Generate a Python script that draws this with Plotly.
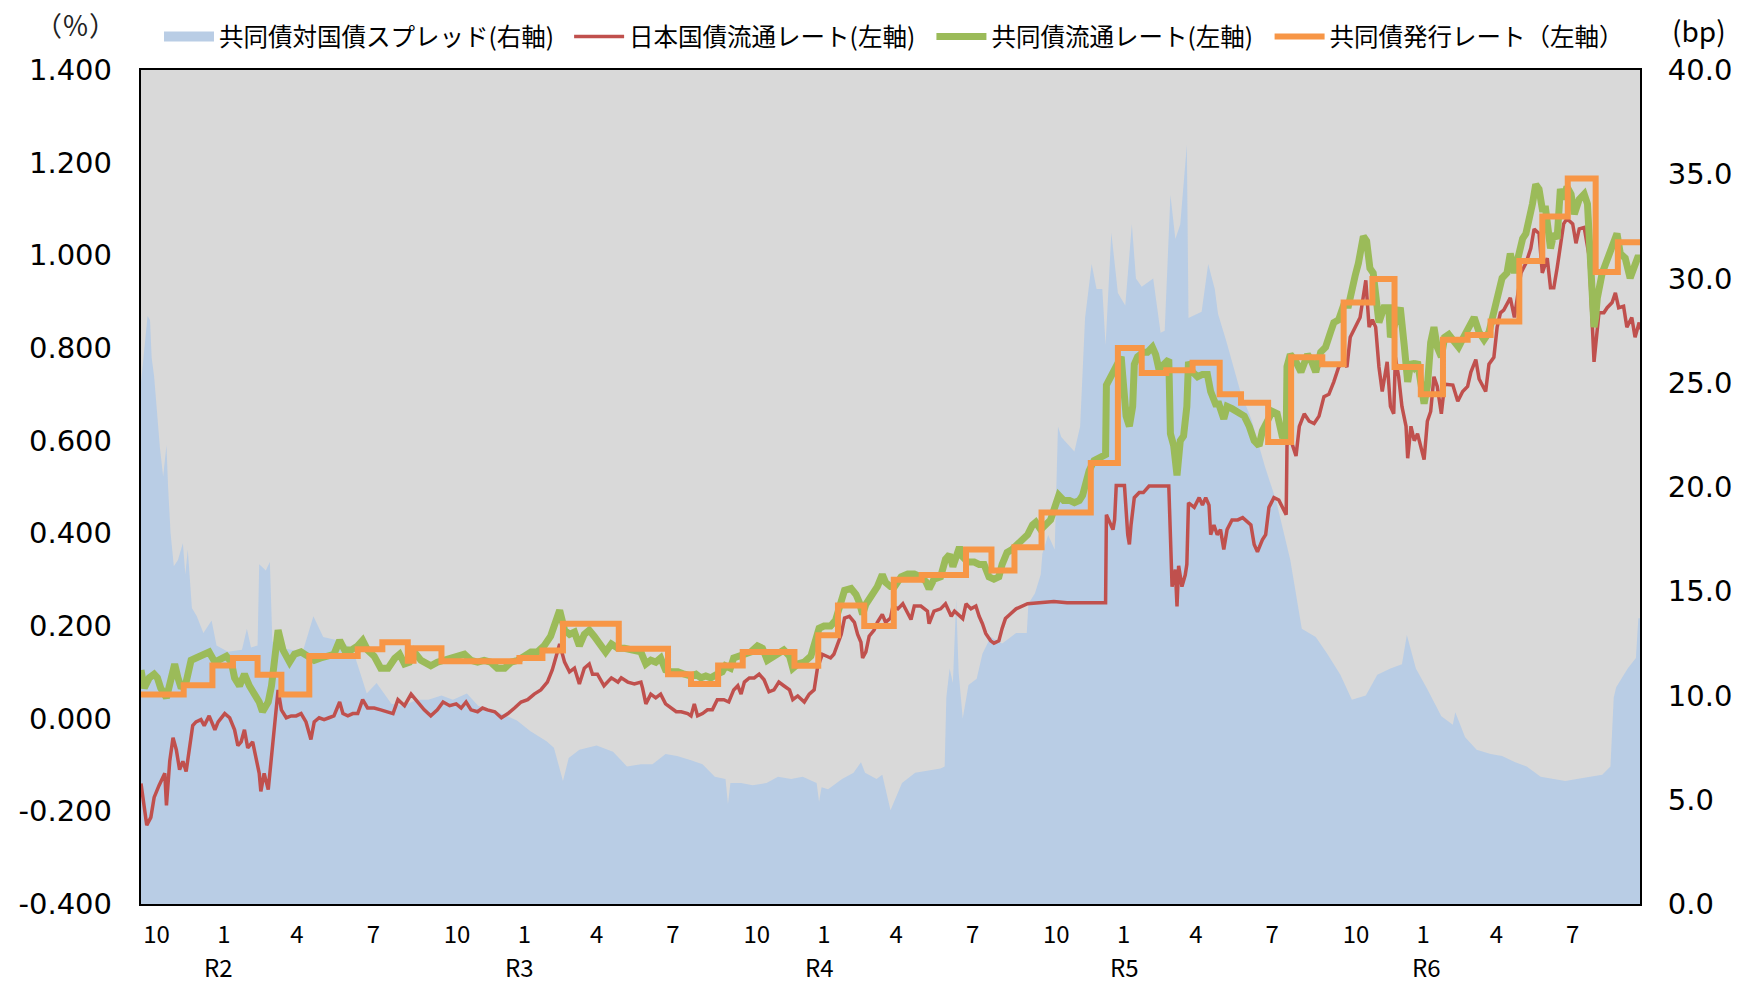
import plotly.graph_objects as go

# ---------------- data ----------------
spread_dates = [
 "2019-10-01","2019-10-05","2019-10-09","2019-10-12","2019-10-14","2019-10-17","2019-10-20","2019-10-24","2019-10-28",
 "2019-11-01","2019-11-03","2019-11-06","2019-11-10","2019-11-15","2019-11-21","2019-11-24","2019-11-27",
 "2019-12-02","2019-12-08","2019-12-16","2019-12-26","2020-01-01","2020-01-15","2020-02-01","2020-02-07","2020-02-12",
 "2020-02-20","2020-02-22","2020-03-01","2020-03-06","2020-03-09","2020-03-15","2020-04-01","2020-04-15","2020-04-28",
 "2020-05-10","2020-06-01","2020-06-15","2020-07-02","2020-07-14","2020-08-01","2020-08-15","2020-09-01","2020-09-15",
 "2020-10-01","2020-10-15","2020-11-01","2020-11-15","2020-12-01","2020-12-15","2021-01-01","2021-01-17","2021-02-06",
 "2021-02-15","2021-02-26","2021-03-05","2021-03-18","2021-04-08","2021-04-28","2021-05-15","2021-06-01","2021-06-15",
 "2021-07-01","2021-07-15","2021-08-01","2021-08-15","2021-08-30","2021-09-12","2021-09-15","2021-09-18","2021-10-01",
 "2021-10-15","2021-11-01","2021-11-15","2021-12-01","2021-12-15","2022-01-01","2022-01-04","2022-01-07","2022-01-15",
 "2022-02-01","2022-02-15","2022-02-24","2022-03-01","2022-03-15","2022-03-22","2022-04-01","2022-04-15","2022-05-01",
 "2022-05-15","2022-06-01","2022-06-06","2022-06-08","2022-06-12","2022-06-16","2022-06-20","2022-06-23","2022-06-28",
 "2022-07-05","2022-07-15","2022-07-22","2022-08-01","2022-08-15","2022-09-01","2022-09-14","2022-09-16","2022-09-24",
 "2022-10-01","2022-10-03","2022-10-10","2022-10-18","2022-10-22","2022-10-26","2022-11-11","2022-11-18","2022-11-24",
 "2022-12-02","2022-12-08","2022-12-15","2022-12-19","2022-12-26","2023-01-03","2023-01-12","2023-01-20","2023-01-25",
 "2023-02-01","2023-02-15","2023-02-24","2023-03-01","2023-03-08","2023-03-14","2023-03-20","2023-03-28","2023-03-30",
 "2023-04-15","2023-04-23","2023-05-01","2023-05-05","2023-05-15","2023-06-01","2023-06-15","2023-07-01","2023-07-15",
 "2023-08-01","2023-08-15","2023-09-01","2023-09-15","2023-10-01","2023-10-15","2023-11-01","2023-11-15","2023-12-01",
 "2023-12-15","2023-12-21","2024-01-01","2024-01-15","2024-02-01","2024-02-15","2024-02-18","2024-03-01","2024-03-15",
 "2024-04-01","2024-04-15","2024-05-01","2024-05-15","2024-06-01","2024-06-15","2024-07-01","2024-07-15","2024-08-01",
 "2024-08-15","2024-08-25","2024-08-29","2024-09-01","2024-09-15","2024-09-25","2024-09-28","2024-09-30"]
spread_bp = [
 25.0,26.5,28.2,28.0,26.2,25.3,23.7,21.9,20.5,
 22.0,20.0,17.8,16.2,16.5,17.3,15.8,17.0,
 14.2,13.8,13.0,13.6,12.4,12.1,12.2,13.2,12.3,
 12.4,16.3,16.0,16.4,12.6,12.3,12.2,12.1,13.8,
 12.8,12.6,12.2,10.1,10.6,9.6,9.5,9.8,9.8,
 10.0,9.8,10.1,9.5,9.3,9.1,8.8,8.3,7.8,
 7.5,5.9,7.0,7.4,7.6,7.3,6.6,6.7,6.7,
 7.2,7.1,6.9,6.7,6.1,6.0,4.8,5.8,5.8,
 5.7,5.8,6.1,6.0,6.1,5.8,4.9,5.6,5.5,
 6.0,6.3,6.8,6.3,6.0,6.2,4.5,5.8,6.3,
 6.4,6.5,6.6,9.9,11.3,10.6,14.6,11.1,8.9,
 10.5,10.8,12.0,12.8,12.5,13.0,13.0,14.4,14.9,
 15.8,16.8,17.7,17.0,22.9,22.4,21.7,22.9,28.1,
 30.7,29.5,29.5,26.8,32.2,29.3,28.7,32.6,30.0,
 29.6,30.0,27.4,27.5,34.0,31.9,32.6,36.4,28.1,
 28.4,30.7,29.5,28.3,27.0,24.6,23.2,21.0,19.3,
 16.5,13.2,12.8,12.0,11.0,9.8,10.0,11.0,11.3,
 11.5,12.9,11.3,10.3,9.0,8.6,9.2,8.0,7.4,
 7.2,7.1,6.8,6.6,6.1,6.0,5.9,6.0,6.1,
 6.2,6.6,9.9,10.4,11.3,11.8,13.7,13.7]

jgb_dates = [
 "2019-10-01","2019-10-08","2019-10-13","2019-10-17","2019-10-23","2019-10-30","2019-11-01","2019-11-05","2019-11-09",
 "2019-11-13","2019-11-17","2019-11-21","2019-11-25","2019-12-01","2019-12-03","2019-12-07","2019-12-13","2019-12-17",
 "2019-12-23","2019-12-30","2020-01-03","2020-01-11","2020-01-17","2020-01-23","2020-01-27","2020-01-31","2020-02-04",
 "2020-02-08","2020-02-14","2020-02-18","2020-02-22","2020-02-24","2020-02-28","2020-03-04","2020-03-06","2020-03-08",
 "2020-03-12","2020-03-16","2020-03-20","2020-03-26","2020-04-01","2020-04-07","2020-04-13","2020-04-19","2020-04-25",
 "2020-04-29","2020-05-05","2020-05-11","2020-05-17","2020-05-23","2020-05-30","2020-06-03","2020-06-09","2020-06-15",
 "2020-06-21","2020-06-27","2020-07-03","2020-07-11","2020-07-19","2020-07-28","2020-08-03","2020-08-09","2020-08-17",
 "2020-08-25","2020-09-02","2020-09-10","2020-09-18","2020-09-26","2020-10-03","2020-10-11","2020-10-19","2020-10-25",
 "2020-10-31","2020-11-06","2020-11-14","2020-11-20","2020-11-26","2020-12-05","2020-12-13","2020-12-21","2020-12-29",
 "2021-01-06","2021-01-14","2021-01-22","2021-01-30","2021-02-07","2021-02-13","2021-02-17","2021-02-22","2021-02-28",
 "2021-03-06","2021-03-12","2021-03-18","2021-03-24","2021-03-30","2021-04-03","2021-04-09","2021-04-17","2021-04-26",
 "2021-05-04","2021-05-08","2021-05-16","2021-05-24","2021-06-01","2021-06-03","2021-06-07","2021-06-13","2021-06-19",
 "2021-06-25","2021-07-01","2021-07-08","2021-07-14","2021-07-20","2021-07-28","2021-08-01","2021-08-05","2021-08-09",
 "2021-08-15","2021-08-21","2021-08-27","2021-09-02","2021-09-10","2021-09-16","2021-09-22","2021-09-27","2021-10-01",
 "2021-10-05","2021-10-11","2021-10-17","2021-10-23","2021-10-29","2021-11-04","2021-11-10","2021-11-16","2021-11-22",
 "2021-11-29","2021-12-03","2021-12-09","2021-12-17","2021-12-23","2021-12-29","2022-01-02","2022-01-08","2022-01-14",
 "2022-01-18","2022-01-22","2022-01-27","2022-01-31","2022-02-04","2022-02-10","2022-02-16","2022-02-20","2022-02-24",
 "2022-02-26","2022-03-02","2022-03-06","2022-03-12","2022-03-16","2022-03-22","2022-03-26","2022-04-01","2022-04-04",
 "2022-04-10","2022-04-16","2022-04-26","2022-04-30","2022-05-08","2022-05-16","2022-05-18","2022-05-24","2022-06-01",
 "2022-06-07","2022-06-14","2022-06-18","2022-06-28","2022-07-02","2022-07-08","2022-07-14","2022-07-18","2022-07-22",
 "2022-07-26","2022-08-01","2022-08-05","2022-08-11","2022-08-15","2022-08-19","2022-08-25","2022-09-01","2022-09-15",
 "2022-10-01","2022-10-17","2022-11-02","2022-11-27","2022-12-13","2022-12-19","2022-12-20","2022-12-28","2022-12-30",
 "2023-01-01","2023-01-11","2023-01-13","2023-01-15","2023-01-17","2023-01-19","2023-01-23","2023-01-29","2023-02-03",
 "2023-02-06","2023-02-10","2023-03-06","2023-03-08","2023-03-10","2023-03-14","2023-03-16","2023-03-18","2023-03-22",
 "2023-03-26","2023-03-28","2023-03-30","2023-04-06","2023-04-12","2023-04-16","2023-04-20","2023-04-24","2023-04-26",
 "2023-04-30","2023-05-04","2023-05-08","2023-05-12","2023-05-16","2023-05-22","2023-05-29","2023-06-04","2023-06-10",
 "2023-06-14","2023-06-18","2023-06-22","2023-06-28","2023-07-02","2023-07-06","2023-07-12","2023-07-18","2023-07-24",
 "2023-07-27","2023-07-28","2023-08-01","2023-08-08","2023-08-12","2023-08-18","2023-08-24","2023-08-30","2023-09-05",
 "2023-09-11","2023-09-17","2023-09-23","2023-09-29","2023-10-05","2023-10-09","2023-10-13","2023-10-19","2023-10-25",
 "2023-11-01","2023-11-05","2023-11-09","2023-11-13","2023-11-17","2023-11-21","2023-11-27","2023-12-01","2023-12-05",
 "2023-12-07","2023-12-11","2023-12-15","2023-12-20","2023-12-22","2023-12-26","2023-12-30","2024-01-03","2024-01-07",
 "2024-01-11","2024-01-15","2024-01-19","2024-01-23","2024-01-27","2024-02-01","2024-02-05","2024-02-15","2024-02-21",
 "2024-02-27","2024-03-04","2024-03-08","2024-03-14","2024-03-18","2024-03-26","2024-03-30","2024-04-05","2024-04-09",
 "2024-04-13","2024-04-17","2024-04-25","2024-04-30","2024-05-04","2024-05-08","2024-05-14","2024-05-20","2024-05-24",
 "2024-05-30","2024-06-03","2024-06-09","2024-06-13","2024-06-17","2024-06-21","2024-06-25","2024-06-29","2024-07-03",
 "2024-07-10","2024-07-14","2024-07-18","2024-07-24","2024-07-30","2024-08-05","2024-08-07","2024-08-11","2024-08-17",
 "2024-08-21","2024-08-27","2024-08-31","2024-09-04","2024-09-10","2024-09-14","2024-09-20","2024-09-24","2024-09-29",
 "2024-09-30"]
jgb_rate = [
 -0.140,-0.230,-0.213,-0.170,-0.144,-0.118,-0.187,-0.092,-0.041,
 -0.067,-0.110,-0.092,-0.114,-0.041,-0.015,-0.007,-0.002,-0.015,
 0.006,-0.024,-0.007,0.011,0.002,-0.024,-0.058,-0.050,-0.024,
 -0.063,-0.050,-0.084,-0.118,-0.157,-0.118,-0.153,-0.118,-0.067,
 0.002,0.062,0.019,0.002,0.006,0.006,0.011,-0.007,-0.045,
 -0.007,0.002,-0.002,0.002,0.006,0.036,0.011,0.006,0.011,
 0.011,0.041,0.023,0.023,0.019,0.015,0.011,0.041,0.028,
 0.053,0.036,0.019,0.006,0.019,0.036,0.028,0.032,0.023,
 0.036,0.019,0.015,0.023,0.019,0.015,0.002,0.011,0.023,
 0.036,0.041,0.053,0.062,0.079,0.105,0.131,0.161,0.122,
 0.101,0.109,0.075,0.109,0.118,0.096,0.096,0.071,0.088,
 0.079,0.088,0.079,0.075,0.079,0.066,0.032,0.053,0.045,
 0.053,0.032,0.023,0.015,0.015,0.011,0.006,0.032,0.006,
 0.011,0.019,0.019,0.041,0.041,0.036,0.062,0.071,0.053,
 0.079,0.088,0.088,0.096,0.084,0.058,0.062,0.079,0.071,
 0.062,0.041,0.049,0.036,0.053,0.062,0.109,0.139,0.135,
 0.131,0.139,0.161,0.182,0.217,0.221,0.208,0.182,0.165,
 0.131,0.144,0.178,0.191,0.208,0.225,0.208,0.217,0.243,
 0.237,0.248,0.214,0.243,0.243,0.232,0.205,0.232,0.237,
 0.248,0.221,0.232,0.216,0.248,0.237,0.243,0.221,0.205,
 0.184,0.168,0.163,0.168,0.195,0.216,0.226,0.237,0.248,
 0.250,0.253,0.250,0.250,0.250,0.250,0.440,0.408,0.429,
 0.503,0.503,0.450,0.397,0.376,0.418,0.477,0.488,0.488,
 0.493,0.502,0.502,0.365,0.285,0.322,0.242,0.330,0.285,
 0.310,0.333,0.466,0.456,0.477,0.461,0.477,0.461,0.397,
 0.418,0.397,0.408,0.365,0.408,0.429,0.429,0.434,0.424,
 0.418,0.376,0.360,0.386,0.397,0.456,0.477,0.472,0.450,
 0.440,0.590,0.605,0.567,0.631,0.658,0.642,0.637,0.653,
 0.695,0.700,0.727,0.759,0.770,0.759,0.823,0.845,0.866,
 0.946,0.845,0.861,0.845,0.759,0.706,0.770,0.674,0.658,
 0.780,0.738,0.674,0.631,0.562,0.631,0.600,0.615,0.589,
 0.559,0.642,0.663,0.738,0.717,0.658,0.722,0.720,0.685,
 0.706,0.717,0.748,0.775,0.733,0.706,0.765,0.780,0.845,
 0.876,0.882,0.908,0.866,0.919,0.962,0.983,1.015,1.057,
 1.047,0.962,0.994,0.930,0.930,0.972,1.015,1.068,1.079,
 1.068,1.026,1.057,1.060,0.999,0.770,0.800,0.876,0.876,
 0.887,0.898,0.919,0.887,0.890,0.845,0.866,0.823,0.855,
 0.840]

joint_dates = [
 "2019-10-01","2019-10-05","2019-10-11","2019-10-17","2019-10-21","2019-10-25","2019-11-01","2019-11-07","2019-11-11",
 "2019-11-15","2019-11-19","2019-11-25","2019-12-01","2019-12-07","2019-12-13","2019-12-19","2019-12-23","2019-12-30",
 "2020-01-07","2020-01-13","2020-01-19","2020-01-23","2020-01-29","2020-02-04","2020-02-10","2020-02-16","2020-02-22",
 "2020-02-26","2020-03-04","2020-03-08","2020-03-12","2020-03-16","2020-03-22","2020-03-30","2020-04-05","2020-04-13",
 "2020-04-21","2020-04-29","2020-05-07","2020-05-15","2020-05-23","2020-05-30","2020-06-05","2020-06-13","2020-06-21",
 "2020-06-27","2020-07-03","2020-07-11","2020-07-19","2020-07-28","2020-08-05","2020-08-11","2020-08-17","2020-08-23",
 "2020-08-29","2020-09-06","2020-09-18","2020-09-26","2020-10-05","2020-10-17","2020-10-29","2020-11-06","2020-11-14",
 "2020-11-22","2020-11-30","2020-12-08","2020-12-17","2020-12-25","2021-01-02","2021-01-10","2021-01-18","2021-01-26",
 "2021-02-03","2021-02-11","2021-02-18","2021-02-22","2021-02-28","2021-03-06","2021-03-12","2021-03-18","2021-03-24",
 "2021-03-30","2021-04-05","2021-04-13","2021-04-19","2021-04-26","2021-05-04","2021-05-12","2021-05-20","2021-06-01",
 "2021-06-03","2021-06-07","2021-06-13","2021-06-19","2021-06-25","2021-07-01","2021-07-08","2021-07-16","2021-07-24",
 "2021-08-01","2021-08-07","2021-08-13","2021-08-19","2021-08-25","2021-09-02","2021-09-08","2021-09-12","2021-09-18",
 "2021-09-22","2021-09-29","2021-10-05","2021-10-13","2021-10-21","2021-10-27","2021-11-02","2021-11-10","2021-11-16",
 "2021-11-22","2021-11-29","2021-12-03","2021-12-09","2021-12-17","2021-12-25","2021-12-31","2022-01-04","2022-01-10",
 "2022-01-18","2022-01-24","2022-01-29","2022-02-04","2022-02-12","2022-02-18","2022-02-22","2022-02-26","2022-03-02",
 "2022-03-06","2022-03-10","2022-03-16","2022-03-22","2022-03-26","2022-04-01","2022-04-06","2022-04-14","2022-04-22",
 "2022-04-30","2022-05-08","2022-05-14","2022-05-18","2022-05-24","2022-06-01","2022-06-07","2022-06-12","2022-06-16",
 "2022-06-20","2022-06-24","2022-06-28","2022-07-04","2022-07-12","2022-07-18","2022-07-24","2022-07-30","2022-08-05",
 "2022-08-11","2022-08-15","2022-08-21","2022-08-27","2022-09-03","2022-09-09","2022-09-15","2022-09-21","2022-09-25",
 "2022-10-01","2022-10-07","2022-10-13","2022-10-19","2022-10-23","2022-10-29","2022-11-05","2022-11-11","2022-11-17",
 "2022-11-21","2022-11-25","2022-11-29","2022-12-05","2022-12-13","2022-12-19","2022-12-20","2022-12-26","2023-01-03",
 "2023-01-07","2023-01-09","2023-01-13","2023-01-17","2023-01-21","2023-01-23","2023-01-27","2023-02-03","2023-02-08",
 "2023-02-14","2023-02-18","2023-02-22","2023-02-28","2023-03-06","2023-03-08","2023-03-12","2023-03-16","2023-03-20",
 "2023-03-24","2023-03-28","2023-03-30","2023-04-04","2023-04-10","2023-04-16","2023-04-22","2023-04-26","2023-05-02",
 "2023-05-06","2023-05-12","2023-05-16","2023-05-22","2023-05-29","2023-06-06","2023-06-12","2023-06-18","2023-06-24",
 "2023-06-28","2023-07-04","2023-07-10","2023-07-16","2023-07-22","2023-07-27","2023-07-28","2023-08-01","2023-08-08",
 "2023-08-14","2023-08-22","2023-08-26","2023-09-01","2023-09-07","2023-09-13","2023-09-19","2023-09-23","2023-09-29",
 "2023-10-05","2023-10-11","2023-10-15","2023-10-19","2023-10-23","2023-10-29","2023-11-02","2023-11-06","2023-11-10",
 "2023-11-17","2023-11-23","2023-11-29","2023-12-01","2023-12-05","2023-12-09","2023-12-13","2023-12-18","2023-12-22",
 "2023-12-26","2023-12-30","2024-01-03","2024-01-07","2024-01-11","2024-01-15","2024-01-19","2024-01-23","2024-01-27",
 "2024-02-01","2024-02-05","2024-02-10","2024-02-16","2024-02-22","2024-02-28","2024-03-06","2024-03-12","2024-03-18",
 "2024-03-24","2024-03-30","2024-04-05","2024-04-09","2024-04-15","2024-04-21","2024-04-25","2024-04-30","2024-05-06",
 "2024-05-10","2024-05-14","2024-05-18","2024-05-22","2024-05-26","2024-05-30","2024-06-03","2024-06-07","2024-06-13",
 "2024-06-17","2024-06-21","2024-06-25","2024-06-29","2024-07-03","2024-07-08","2024-07-12","2024-07-18","2024-07-24",
 "2024-07-28","2024-08-01","2024-08-05","2024-08-07","2024-08-09","2024-08-15","2024-08-21","2024-08-27","2024-09-02",
 "2024-09-06","2024-09-12","2024-09-18","2024-09-24","2024-09-28","2024-09-30"]
joint_rate = [
 0.105,0.066,0.088,0.096,0.088,0.066,0.045,0.096,0.118,
 0.088,0.066,0.079,0.126,0.131,0.135,0.139,0.144,0.122,
 0.131,0.135,0.122,0.088,0.071,0.096,0.071,0.053,0.036,
 0.015,0.036,0.071,0.122,0.191,0.148,0.122,0.139,0.144,
 0.135,0.126,0.131,0.135,0.139,0.169,0.148,0.148,0.157,
 0.169,0.148,0.135,0.109,0.109,0.130,0.139,0.118,0.122,
 0.144,0.126,0.114,0.122,0.126,0.135,0.139,0.126,0.122,
 0.126,0.122,0.109,0.109,0.122,0.126,0.135,0.144,0.144,
 0.157,0.178,0.208,0.234,0.191,0.182,0.187,0.157,0.182,
 0.191,0.178,0.161,0.144,0.161,0.152,0.152,0.148,0.144,
 0.135,0.118,0.126,0.122,0.131,0.105,0.101,0.101,0.096,
 0.092,0.096,0.088,0.092,0.088,0.096,0.101,0.114,0.109,
 0.131,0.135,0.139,0.144,0.157,0.152,0.126,0.135,0.144,
 0.148,0.135,0.109,0.118,0.122,0.135,0.165,0.195,0.200,
 0.200,0.212,0.238,0.277,0.281,0.268,0.251,0.225,0.247,
 0.259,0.268,0.285,0.311,0.294,0.285,0.285,0.306,0.312,
 0.312,0.306,0.296,0.280,0.301,0.306,0.344,0.354,0.328,
 0.354,0.370,0.349,0.338,0.338,0.333,0.333,0.306,0.301,
 0.306,0.333,0.359,0.365,0.376,0.386,0.397,0.418,0.424,
 0.408,0.418,0.429,0.461,0.482,0.471,0.471,0.466,0.471,
 0.482,0.514,0.535,0.557,0.567,0.570,0.720,0.743,0.770,
 0.781,0.738,0.653,0.631,0.674,0.765,0.781,0.791,0.791,
 0.802,0.786,0.754,0.765,0.775,0.615,0.589,0.525,0.600,
 0.610,0.674,0.770,0.748,0.738,0.743,0.743,0.706,0.679,
 0.679,0.647,0.674,0.669,0.663,0.653,0.631,0.600,0.589,
 0.621,0.642,0.663,0.658,0.611,0.610,0.760,0.786,0.770,
 0.748,0.786,0.775,0.748,0.791,0.802,0.834,0.855,0.861,
 0.892,0.892,0.930,0.956,0.983,1.041,1.031,0.972,0.962,
 0.855,0.887,0.887,0.823,0.845,0.855,0.887,0.802,0.727,
 0.770,0.759,0.770,0.717,0.680,0.717,0.812,0.845,0.802,
 0.781,0.823,0.829,0.812,0.802,0.823,0.845,0.866,0.834,
 0.818,0.834,0.876,0.919,0.951,0.962,1.004,0.962,1.015,
 1.036,1.047,1.073,1.111,1.153,1.143,1.100,1.100,1.015,
 1.047,1.036,1.143,1.121,1.148,1.132,1.089,1.121,1.132,
 1.111,0.972,0.845,0.866,0.908,0.962,0.994,1.015,1.047,
 1.004,0.994,0.951,0.983,0.999,0.990]

issue_dates = [
 "2019-10-01","2019-11-22","2019-12-27","2020-01-21","2020-02-20","2020-03-20","2020-04-23","2020-06-21","2020-07-21",
 "2020-08-21","2020-08-28","2020-10-01","2021-01-04","2021-02-01","2021-02-26","2021-05-05","2021-07-04","2021-08-01",
 "2021-09-03","2021-10-03","2021-12-05","2022-01-03","2022-01-27","2022-02-28","2022-04-05","2022-05-09","2022-07-02",
 "2022-08-02","2022-08-30","2022-10-02","2022-12-01","2023-01-03","2023-02-01","2023-03-03","2023-04-04","2023-05-07",
 "2023-06-02","2023-07-05","2023-08-02","2023-09-09","2023-10-05","2023-11-09","2023-12-06","2024-01-07","2024-02-03",
 "2024-03-04","2024-04-01","2024-05-06","2024-06-03","2024-07-04","2024-08-07","2024-09-03","2024-09-30"]
issue_rate = [
 0.052,0.072,0.115,0.131,0.095,0.052,0.135,0.150,0.165,
 0.125,0.152,0.124,0.131,0.147,0.205,0.151,0.096,0.075,
 0.115,0.144,0.114,0.180,0.244,0.200,0.300,0.310,0.365,
 0.320,0.370,0.445,0.552,0.800,0.746,0.752,0.768,0.700,
 0.682,0.597,0.780,0.765,0.898,0.949,0.759,0.700,0.818,
 0.828,0.857,0.988,1.084,1.166,0.964,1.028,1.028]

x_tick_dates = ["2019-10-20","2020-01-10","2020-04-08","2020-07-10",
                "2020-10-20","2021-01-10","2021-04-08","2021-07-10",
                "2021-10-20","2022-01-10","2022-04-08","2022-07-10",
                "2022-10-20","2023-01-10","2023-04-08","2023-07-10",
                "2023-10-20","2024-01-10","2024-04-08","2024-07-10"]
x_tick_labels = ["10", "1", "4", "7"] * 5
era_dates = ["2020-01-03", "2021-01-04", "2022-01-05", "2023-01-11", "2024-01-14"]
era_labels = ["R2", "R3", "R4", "R5", "R6"]

left_ticks = [1.4, 1.2, 1.0, 0.8, 0.6, 0.4, 0.2, 0.0, -0.2, -0.4]
left_tick_labels = ["1.400", "1.200", "1.000", "0.800", "0.600", "0.400", "0.200", "0.000", "-0.200", "-0.400"]
right_ticks = [40, 35, 30, 25, 20, 15, 10, 5, 0]
right_tick_labels = ["40.0", "35.0", "30.0", "25.0", "20.0", "15.0", "10.0", "5.0", "0.0"]

# ---------------- figure ----------------
JP = "Noto Sans CJK JP"
NUM = "Verdana, DejaVu Sans"
SPREAD_NAME = "共同債対国債スプレッド(右軸)"

fig = go.Figure()
fig.add_trace(go.Scatter(
    x=spread_dates, y=spread_bp, name=SPREAD_NAME, mode="lines", showlegend=False,
    fill="tozeroy", fillcolor="#B9CDE5", line=dict(color="#B9CDE5", width=0), yaxis="y"))
# legend key for the area (box-like swatch)
fig.add_trace(go.Scatter(
    x=[None], y=[None], name=SPREAD_NAME, mode="lines", legend="legend",
    line=dict(color="#B9CDE5", width=13), yaxis="y"))
fig.add_trace(go.Scatter(
    x=jgb_dates, y=jgb_rate, name="日本国債流通レート(左軸)", mode="lines", legend="legend2",
    line=dict(color="#C0504D", width=3.5), yaxis="y2"))
fig.add_trace(go.Scatter(
    x=joint_dates, y=joint_rate, name="共同債流通レート(左軸)", mode="lines", legend="legend3",
    line=dict(color="#9BBB59", width=7), yaxis="y2"))
fig.add_trace(go.Scatter(
    x=issue_dates, y=issue_rate, name="共同債発行レート（左軸）", mode="lines", legend="legend4",
    line=dict(color="#F79646", width=6, shape="hv"), yaxis="y2"))

annotations = [
    dict(text="（％）", x=-0.044, y=1.055, xref="paper", yref="paper", showarrow=False,
         xanchor="center", yanchor="middle", font=dict(family=JP, size=27, color="#222")),
    dict(text="(bp)", x=1.0394, y=1.048, xref="paper", yref="paper", showarrow=False,
         xanchor="center", yanchor="middle", font=dict(family=JP, size=28, color="#000")),
]
for d, t in zip(era_dates, era_labels):
    annotations.append(dict(text=t, x=d, y=-0.0745, xref="x", yref="paper", showarrow=False,
                            xanchor="center", yanchor="middle", font=dict(family=JP, size=24, color="#000")))

def leg(xpos):
    return dict(orientation="h", x=xpos, y=1.04, xanchor="left", yanchor="middle",
                font=dict(family=JP, size=24.5, color="#000"), itemwidth=50,
                bgcolor="rgba(0,0,0,0)")

fig.update_layout(
    width=1738, height=986,
    margin=dict(l=141, r=98, t=70, b=82, autoexpand=False),
    paper_bgcolor="white", plot_bgcolor="#D9D9D9",
    showlegend=True,
    legend=leg(0.012), legend2=leg(0.2856), legend3=leg(0.5273), legend4=leg(0.7529),
    xaxis=dict(type="date", range=["2019-10-01", "2024-09-30"], tickmode="array",
               tickvals=x_tick_dates, ticktext=x_tick_labels, ticks="",
               showgrid=False, zeroline=False, showline=True, linecolor="black",
               linewidth=2, mirror=True, tickfont=dict(family=JP, size=24, color="#000"),
               ticklabelstandoff=8),
    yaxis=dict(side="right", range=[0, 40], tickmode="array", tickvals=right_ticks,
               ticktext=right_tick_labels, showgrid=False, zeroline=False, showline=True,
               linecolor="black", linewidth=2, mirror=True, ticks="",
               tickfont=dict(family=NUM, size=29, color="#000"), ticklabelstandoff=20),
    yaxis2=dict(overlaying="y", side="left", range=[-0.4, 1.4], tickmode="array",
                tickvals=left_ticks, ticktext=left_tick_labels, showgrid=False,
                zeroline=False, showline=False, ticks="",
                tickfont=dict(family=NUM, size=29, color="#000"), ticklabelstandoff=28),
    annotations=annotations,
)

fig.write_html("out.html", config={"displayModeBar": False},
               post_script="document.body.style.margin='0';")
